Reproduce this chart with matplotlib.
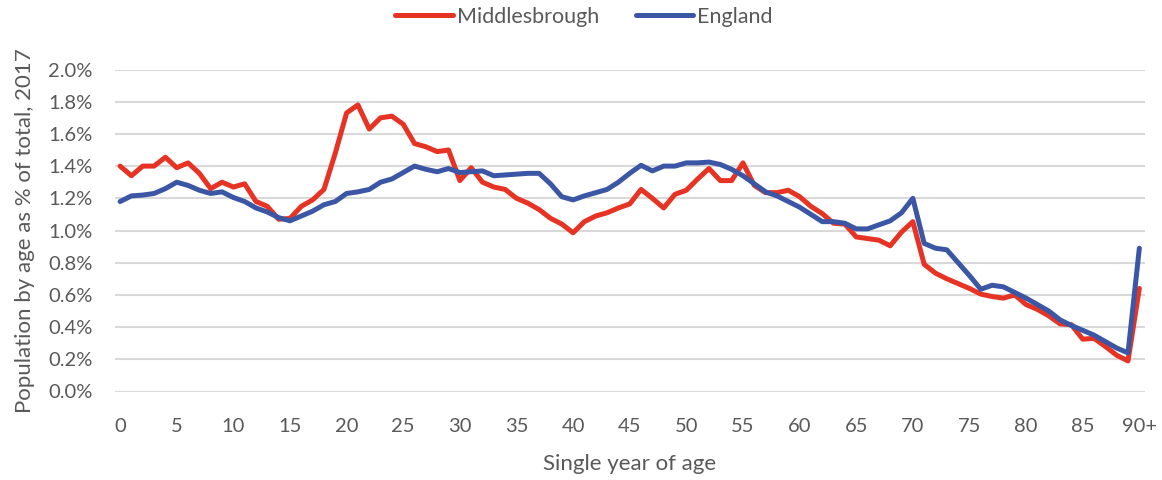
import matplotlib
matplotlib.use("Agg")
import matplotlib.pyplot as plt
from matplotlib.ticker import FuncFormatter, MultipleLocator

ages = list(range(91))
x_tick_positions = list(range(0, 91, 5))
x_tick_labels = [str(a) for a in range(0, 90, 5)] + ["90+"]

middlesbrough = [
    1.40, 1.34, 1.40, 1.40, 1.455, 1.39, 1.42, 1.355, 1.26, 1.30,
    1.27, 1.29, 1.18, 1.15, 1.07, 1.075, 1.15, 1.19, 1.255, 1.48,
    1.73, 1.78, 1.63, 1.70, 1.71, 1.66, 1.54, 1.52, 1.49, 1.50,
    1.31, 1.39, 1.30, 1.27, 1.255, 1.20, 1.17, 1.13, 1.076, 1.04,
    0.986, 1.055, 1.09, 1.11, 1.14, 1.165, 1.255, 1.20, 1.14, 1.225,
    1.25, 1.32, 1.385, 1.31, 1.31, 1.42, 1.28, 1.235, 1.235, 1.25,
    1.21, 1.15, 1.105, 1.045, 1.04, 0.96, 0.95, 0.94, 0.905, 0.99,
    1.055, 0.79, 0.735, 0.70, 0.67, 0.64, 0.605, 0.59, 0.58, 0.60,
    0.54, 0.51, 0.47, 0.42, 0.415, 0.325, 0.33, 0.28, 0.225, 0.19,
    0.64,
]

england = [
    1.18, 1.215, 1.22, 1.23, 1.26, 1.30, 1.28, 1.25, 1.23, 1.24,
    1.205, 1.18, 1.14, 1.115, 1.08, 1.06, 1.09, 1.12, 1.16, 1.18,
    1.23, 1.24, 1.255, 1.30, 1.32, 1.36, 1.40, 1.38, 1.365, 1.385,
    1.36, 1.365, 1.37, 1.34, 1.345, 1.35, 1.355, 1.355, 1.29, 1.21,
    1.19, 1.215, 1.235, 1.255, 1.30, 1.355, 1.405, 1.37, 1.40, 1.40,
    1.42, 1.42, 1.425, 1.41, 1.38, 1.34, 1.29, 1.24, 1.215, 1.18,
    1.145, 1.10, 1.055, 1.055, 1.045, 1.01, 1.01, 1.035, 1.06, 1.11,
    1.20, 0.92, 0.89, 0.88, 0.80, 0.72, 0.635, 0.66, 0.65, 0.615,
    0.58, 0.54, 0.50, 0.445, 0.41, 0.38, 0.35, 0.31, 0.27, 0.24,
    0.89,
]

text_color = "#595959"
plt.rcParams["font.family"] = ["Lato", "DejaVu Sans"]

fig = plt.figure(figsize=(11.62, 4.80), dpi=100)
ax = fig.add_axes([115 / 1162, 1 - 391.5 / 480, (1145 - 115) / 1162, (391.5 - 69.5) / 480])

ax.plot(ages, [v / 100 for v in middlesbrough], color="#E63323", lw=3.6,
        solid_joinstyle="round", solid_capstyle="round", label="Middlesbrough", zorder=3)
ax.plot(ages, [v / 100 for v in england], color="#3C56A6", lw=3.6,
        solid_joinstyle="round", solid_capstyle="round", label="England", zorder=4)

ax.set_xlim(-0.45, 90.5)
ax.set_ylim(0, 0.02)
ax.yaxis.set_major_locator(MultipleLocator(0.002))
ax.yaxis.set_major_formatter(FuncFormatter(lambda v, p: f"{v * 100:.1f}%"))
ax.set_xticks(x_tick_positions)
ax.set_xticklabels(x_tick_labels)

ax.grid(axis="y", color="#D9D9D9", lw=1.5, zorder=0)
ax.set_axisbelow(True)
for s in ax.spines.values():
    s.set_visible(False)
ax.tick_params(axis="both", length=0, labelsize=14.5, colors=text_color)
ax.tick_params(axis="x", pad=19)
ax.tick_params(axis="y", pad=16)

ax.set_xlabel("Single year of age", fontsize=16, color=text_color, labelpad=14)
ax.set_ylabel("Population by age as % of total, 2017", fontsize=16, color=text_color, labelpad=10)

leg = fig.legend(loc="center", bbox_to_anchor=(584 / 1162, 1 - 17 / 480), ncol=2, frameon=False,
                 fontsize=15.5, handlelength=2.65, handletextpad=0.2, columnspacing=1.7)
for t in leg.get_texts():
    t.set_color(text_color)

fig.savefig("out.png", dpi=100)
